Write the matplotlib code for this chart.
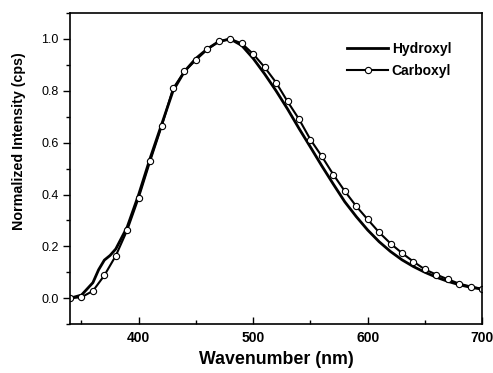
import numpy as np
import matplotlib
matplotlib.use('Agg')
import matplotlib.pyplot as plt
from matplotlib.ticker import MultipleLocator

plt.rcParams['font.family'] = ['Liberation Sans', 'DejaVu Sans']

# Hydroxyl spectrum
hyd_x = [340, 350, 360, 365, 370, 375, 380, 390, 400, 410, 420, 430, 440, 450,
         460, 470, 480, 490, 500, 510, 520, 530, 540, 550, 560, 570, 580, 590,
         600, 610, 620, 630, 640, 650, 660, 670, 680, 690, 700]
hyd_y = [0.0, 0.012, 0.06, 0.11, 0.147, 0.165, 0.19, 0.275, 0.40, 0.54, 0.67,
         0.80, 0.875, 0.925, 0.962, 0.99, 1.0, 0.975, 0.925, 0.865, 0.80, 0.73,
         0.655, 0.583, 0.51, 0.44, 0.372, 0.315, 0.263, 0.218, 0.18, 0.148,
         0.122, 0.10, 0.081, 0.065, 0.052, 0.042, 0.035]

# Carboxyl spectrum, one point every 10 nm
carb_x = list(range(340, 701, 10))
carb_y = [0.0, 0.004, 0.028, 0.088, 0.164, 0.263, 0.388, 0.529, 0.663, 0.809,
          0.875, 0.919, 0.960, 0.991, 1.0, 0.983, 0.942, 0.891, 0.832, 0.759,
          0.691, 0.612, 0.547, 0.477, 0.413, 0.355, 0.304, 0.254, 0.211, 0.174,
          0.141, 0.111, 0.091, 0.073, 0.056, 0.045, 0.036]

fig = plt.figure(figsize=(4.93, 3.73), dpi=100)
ax = fig.add_axes([0.142, 0.131, 0.836, 0.834])

ax.plot(hyd_x, hyd_y, color='black', lw=2.0, label='Hydroxyl')
ax.plot(carb_x, carb_y, color='black', lw=1.5, marker='o', ms=4.5,
        mfc='white', mec='black', mew=0.8, label='Carboxyl')

ax.set_xlim(340, 700)
ax.set_ylim(-0.1, 1.1)
ax.xaxis.set_major_locator(MultipleLocator(100))
ax.xaxis.set_minor_locator(MultipleLocator(50))
ax.yaxis.set_major_locator(MultipleLocator(0.2))
ax.yaxis.set_minor_locator(MultipleLocator(0.1))
ax.yaxis.set_major_formatter(plt.FormatStrFormatter('%.1f'))

ax.tick_params(axis='x', which='both', direction='in', top=False)
ax.tick_params(axis='x', which='major', length=5, width=1, labelsize=10, pad=5)
ax.tick_params(axis='x', which='minor', length=3, width=1)
ax.tick_params(axis='y', which='both', direction='out', right=False)
ax.tick_params(axis='y', which='major', length=5, width=1, labelsize=9, pad=3)
ax.tick_params(axis='y', which='minor', length=3, width=1)
for lbl in ax.get_xticklabels():
    lbl.set_fontweight('bold')

for s in ax.spines.values():
    s.set_linewidth(1.2)

ax.set_xlabel('Wavenumber (nm)', fontsize=12.8, fontweight='bold', labelpad=4)
ax.set_ylabel('Normalized Intensity (cps)', fontsize=10.3, fontweight='bold')
ax.yaxis.set_label_coords(-0.107, 0.588)

leg = ax.legend(loc='upper left', bbox_to_anchor=(0.642, 0.948), frameon=False,
                handlelength=2.95, handletextpad=0.27, labelspacing=0.6,
                prop={'weight': 'bold', 'size': 10})

fig.savefig('out.png', dpi=100)
